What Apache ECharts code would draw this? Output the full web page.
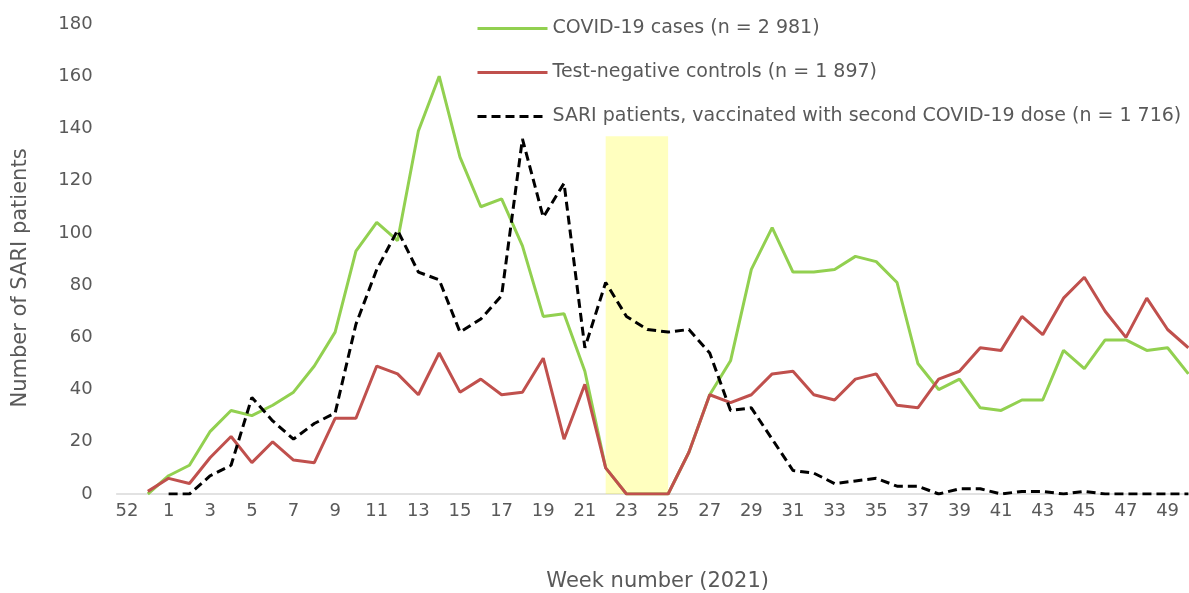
<!DOCTYPE html>
<html>
<head>
<meta charset="utf-8">
<script src="https://cdn.jsdelivr.net/npm/echarts@6/dist/echarts.min.js"></script>
<style>html,body{margin:0;padding:0;background:#fff;overflow:hidden}#c{width:1189px;height:593px}</style>
</head>
<body>
<div id="c"></div>
<script>
const weeks = ['52','53','1','2','3','4','5','6','7','8','9','10','11','12','13','14','15','16','17','18','19','20','21','22','23','24','25','26','27','28','29','30','31','32','33','34','35','36','37','38','39','40','41','42','43','44','45','46','47','48','49','50'];
const covidCases = [null,0,7,11,24,32,30,34,39,49,62,93,104,97,139,160,129,110,113,95,68,69,47,10,0,0,0,16,38,51,86,102,85,85,86,91,89,81,50,40,44,33,32,36,36,55,48,59,59,55,56,46];
const testNegative = [null,1,6,4,14,22,12,20,13,12,29,29,49,46,38,54,39,44,38,39,52,21,42,10,0,0,0,16,38,35,38,46,47,38,36,44,46,34,33,44,47,56,55,68,61,75,83,70,60,75,63,56];
const vaccinated = [null,null,0,0,7,11,37,28,21,27,31,65,86,101,85,82,62,67,76,136,106,119,56,81,68,63,62,63,54,32,33,21,9,8,4,5,6,3,3,0,2,2,0,1,1,0,1,0,0,0,0,0];
const seriesNames = ['COVID-19 cases (n = 2 981)','Test-negative controls (n = 1 897)','SARI patients, vaccinated with second COVID-19 dose (n = 1 716)'];
const bandStart = '22', bandEnd = '25', bandTop = 137;

const font = 'DejaVu Sans';
const txt = '#595959';
const chart = echarts.init(document.getElementById('c'));
chart.setOption({
  animation: false,
  textStyle: {fontFamily: font},
  grid: {left: 116.6, right: -9.8, top: 24, bottom: 99, containLabel: false, outerBoundsMode: 'none'},
  legend: {
    data: seriesNames,
    orient: 'vertical',
    left: 471, top: 14,
    itemWidth: 70, itemHeight: 14, itemGap: 25,
    itemStyle: {opacity: 0},
    lineStyle: {width: 3},
    textStyle: {fontFamily: font, fontSize: 19, color: txt, lineHeight: 19}
  },
  xAxis: {
    type: 'category', data: weeks, boundaryGap: true,
    axisLine: {lineStyle: {color: '#D9D9D9', width: 1.5}},
    axisTick: {show: false},
    axisLabel: {interval: 1, color: txt, fontSize: 18, margin: 8, fontFamily: font},
    name: 'Week number (2021)', nameLocation: 'middle', nameGap: 77,
    nameTextStyle: {color: txt, fontSize: 21, fontFamily: font}
  },
  yAxis: {
    type: 'value', min: 0, max: 180, interval: 20,
    axisLine: {show: false}, axisTick: {show: false}, splitLine: {show: false},
    axisLabel: {color: txt, fontSize: 18, margin: 24, fontFamily: font},
    name: 'Number of SARI patients', nameLocation: 'middle', nameGap: 86,
    nameTextStyle: {color: txt, fontSize: 21, fontFamily: font, padding: [0, 38, 0, 0]}
  },
  series: [
    {name: seriesNames[0], type: 'line', data: covidCases, symbol: 'none', color: '#92D050',
     lineStyle: {color: '#92D050', width: 3}, z: 2},
    {name: seriesNames[1], type: 'line', data: testNegative, symbol: 'none', color: '#C0504D',
     lineStyle: {color: '#C0504D', width: 3}, z: 3},
    {name: seriesNames[2], type: 'line', data: vaccinated, symbol: 'none', color: '#000000',
     lineStyle: {color: '#000000', width: 3, type: [9, 5]}, z: 4},
    {name: 'band', type: 'line', data: [], symbol: 'none', z: 10,
     markArea: {silent: true, itemStyle: {color: 'rgba(255,255,0,0.25)'},
       data: [[{xAxis: bandStart, yAxis: 0}, {xAxis: bandEnd, yAxis: bandTop}]]}}
  ]
});
</script>
</body>
</html>
